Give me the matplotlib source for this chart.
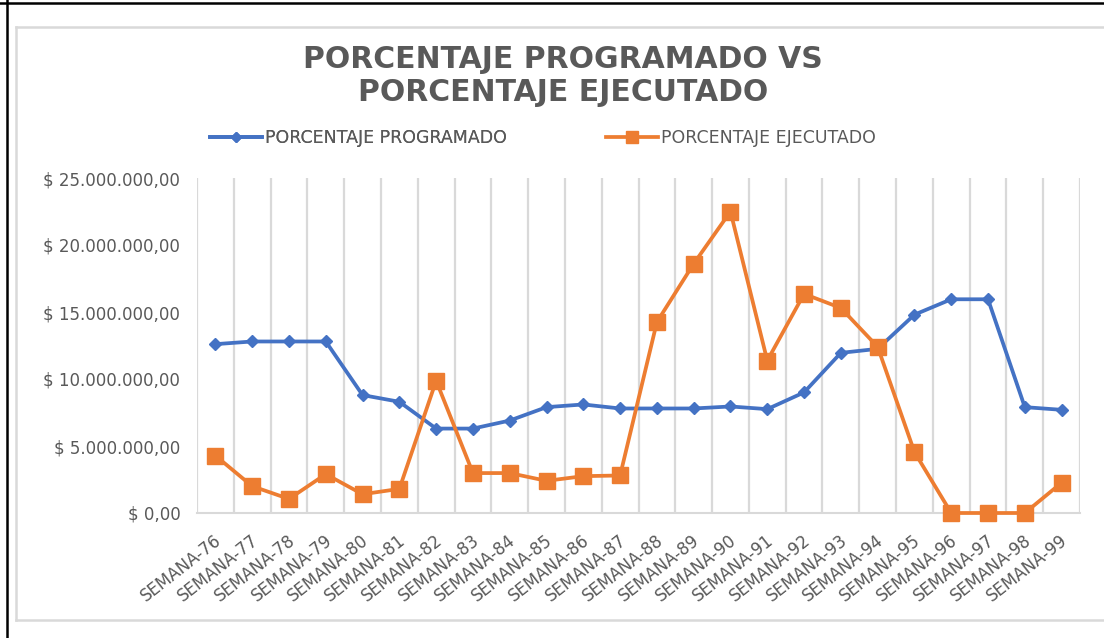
import matplotlib
matplotlib.use("Agg")
import matplotlib.pyplot as plt
import matplotlib.transforms as mtransforms
from matplotlib.lines import Line2D
from matplotlib.ticker import FuncFormatter, MultipleLocator, FixedLocator

# ---------------- data ----------------
semanas = [f"SEMANA-{n}" for n in range(76, 100)]
programado = [12.6e6, 12.8e6, 12.8e6, 12.8e6, 8.8e6, 8.3e6, 6.3e6, 6.3e6,
              6.9e6, 7.9e6, 8.1e6, 7.8e6, 7.8e6, 7.8e6, 7.95e6, 7.75e6,
              9.0e6, 11.95e6, 12.25e6, 14.8e6, 15.95e6, 15.95e6, 7.9e6, 7.7e6]
ejecutado = [4.28e6, 2.0e6, 1.05e6, 2.9e6, 1.4e6, 1.8e6, 9.87e6, 2.98e6,
             2.98e6, 2.4e6, 2.75e6, 2.8e6, 14.25e6, 18.6e6, 22.5e6, 11.37e6,
             16.35e6, 15.3e6, 12.4e6, 4.55e6, 0.0, 0.0, 0.0, 2.26e6]
serie_prog = "PORCENTAJE PROGRAMADO"
serie_ejec = "PORCENTAJE EJECUTADO"
titulo = "PORCENTAJE PROGRAMADO VS\nPORCENTAJE EJECUTADO"

# ---------------- style ----------------
W, H = 1104, 638
BLUE = "#4472C4"
ORANGE = "#ED7D31"
GRID = "#D9D9D9"
TXT = "#595959"

fig = plt.figure(figsize=(W / 100, H / 100), dpi=100)
fig.patch.set_facecolor("white")

def fx(px):
    return px / W

def fy(py):
    return 1 - py / H

ax = fig.add_axes([fx(197), fy(513), fx(1080) - fx(197), fy(178) - fy(513)])
x = list(range(len(semanas)))

ax.plot(x, programado, color=BLUE, lw=2.7, marker="D", ms=6.5,
        markerfacecolor=BLUE, markeredgecolor=BLUE, clip_on=False, zorder=3)
ax.plot(x, ejecutado, color=ORANGE, lw=2.7, marker="s", ms=11,
        markerfacecolor=ORANGE, markeredgecolor=ORANGE, clip_on=False, zorder=4)

ax.set_xlim(-0.5, len(semanas) - 0.5)
ax.set_ylim(0, 25e6)

for s in ["top", "right", "left"]:
    ax.spines[s].set_visible(False)
ax.spines["bottom"].set_color(GRID)
ax.spines["bottom"].set_linewidth(1.5)

# vertical gridlines between categories
ax.xaxis.set_minor_locator(FixedLocator([i - 0.5 for i in range(len(semanas) + 1)]))
ax.grid(which="minor", axis="x", color=GRID, lw=1.6)
ax.tick_params(which="both", length=0)

ax.set_xticks(x)
ax.set_xticklabels(semanas, rotation=38, ha="right", va="center",
                   rotation_mode="anchor", fontsize=12, color=TXT)
ax.tick_params(axis="x", pad=18)
off = mtransforms.ScaledTranslation(4 / 100, 0, fig.dpi_scale_trans)
for lab in ax.get_xticklabels():
    lab.set_transform(lab.get_transform() + off)

def fmt(v, pos):
    s = f"{v:,.2f}"
    s = s.replace(",", "X").replace(".", ",").replace("X", ".")
    return f"$ {s}"

ax.yaxis.set_major_locator(MultipleLocator(5e6))
ax.yaxis.set_major_formatter(FuncFormatter(fmt))
ax.tick_params(axis="y", labelsize=12, labelcolor=TXT, pad=12)

# title
fig.text(fx(563), fy(76), titulo, ha="center", va="center", fontsize=21.5,
         fontweight="bold", color=TXT, linespacing=1.15)

# legend (two entries placed as in the reference)
h1 = Line2D([], [], color=BLUE, lw=2.7, marker="D", ms=5)
h2 = Line2D([], [], color=ORANGE, lw=2.7, marker="s", ms=8)
leg1 = fig.legend([h1], [serie_prog], loc="center left",
                  bbox_to_anchor=(fx(210), fy(138)), frameon=False,
                  fontsize=12.5, handlelength=3.0, handletextpad=0.15,
                  borderpad=0, borderaxespad=0, labelcolor=TXT)
fig.add_artist(leg1)
leg2 = fig.legend([h2], [serie_ejec], loc="center left",
                  bbox_to_anchor=(fx(606), fy(138)), frameon=False,
                  fontsize=12.5, handlelength=3.0, handletextpad=0.15,
                  borderpad=0, borderaxespad=0, labelcolor=TXT)

# chart frame (light gray) and screenshot border (black)
frame_kw = dict(color=GRID, lw=1.8, transform=fig.transFigure)
fig.add_artist(Line2D([fx(16), fx(16)], [fy(27), fy(620)], **frame_kw))
fig.add_artist(Line2D([fx(16), 1], [fy(27), fy(27)], **frame_kw))
fig.add_artist(Line2D([fx(16), 1], [fy(620), fy(620)], **frame_kw))
black_kw = dict(color="black", lw=1.8, transform=fig.transFigure)
fig.add_artist(Line2D([fx(6.5), fx(6.5)], [0, 1], **black_kw))
fig.add_artist(Line2D([0, 1], [fy(2.5), fy(2.5)], **black_kw))

fig.savefig("out.png", dpi=100)
